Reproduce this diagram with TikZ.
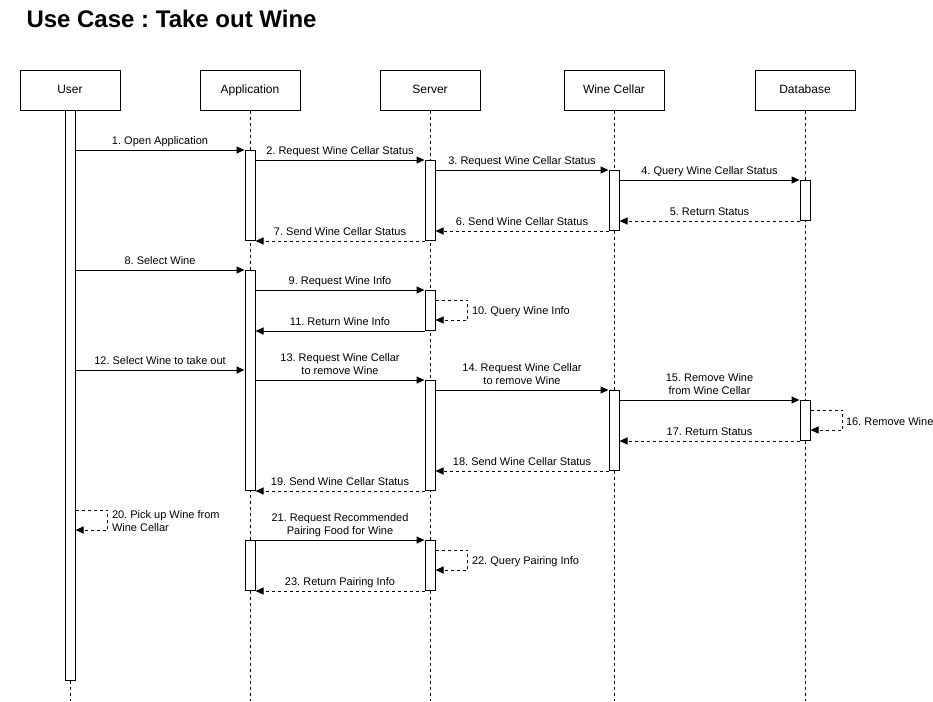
\documentclass[tikz,border=0pt]{standalone}
\usepackage{fontspec}
\setmainfont{Liberation Sans}
\usetikzlibrary{arrows.meta,calc}
\newcommand{\lsx}{\rule[-2.4pt]{0pt}{1pt}}
\begin{document}
\frenchspacing
\begin{tikzpicture}[x=1pt,y=-1pt,line width=1pt,
  head/.style={draw,fill=white,minimum width=100pt,minimum height=40pt,inner sep=0pt,text height=8.8pt,text depth=2.6pt,font=\fontsize{12}{14}\selectfont},
  life/.style={dash pattern=on 3pt off 3pt,line width=1pt},
  act/.style={draw,fill=white,minimum width=10pt,inner sep=0pt,anchor=north},
  msg/.style={-{Triangle[length=8pt,width=7pt]}},
  ret/.style={-{Triangle[length=8pt,width=7pt]},dash pattern=on 3pt off 3pt},
  lab/.style={midway,anchor=south,inner sep=0pt,yshift=2.2pt,align=center,font=\fontsize{11}{13}\selectfont},
  llab/.style={midway,anchor=west,inner sep=0pt,xshift=4pt,yshift=-1.5pt,align=left,font=\fontsize{11}{13}\selectfont}]
\useasboundingbox (0,0) rectangle (933,701);
\fill[white] (0,0) rectangle (933,701);

\node[anchor=base west,inner sep=0pt,font=\fontsize{24}{27}\selectfont\bfseries] (title) at (26,28) {Use Case : Take out Wine};

% heads
\node[head] (hu) at (70,90) {User};
\node[head] (ha) at (250,90) {Application};
\node[head] (hs) at (430,90) {Server};
\node[head] (hw) at (614,90) {Wine Cellar};
\node[head] (hd) at (805,90) {Database};

% lifeline ends
\coordinate (eu) at (70,701);
\coordinate (ea) at (250,701);
\coordinate (es) at (430,701);
\coordinate (ew) at (614,701);
\coordinate (ed) at (805,701);
\draw[life] (hu.south) -- (eu);
\draw[life] (ha.south) -- (ea);
\draw[life] (hs.south) -- (es);
\draw[life] (hw.south) -- (ew);
\draw[life] (hd.south) -- (ed);

% activations
\node[act,minimum height=570pt] (ua) at (70,110) {};
\node[act,minimum height=90pt] (app1) at (250,150) {};
\node[act,minimum height=220pt] (app2) at (250,270) {};
\node[act,minimum height=50pt] (app3) at (250,540) {};
\node[act,minimum height=80pt] (srv1) at (430,160) {};
\node[act,minimum height=40pt] (srv2) at (430,290) {};
\node[act,minimum height=110pt] (srv3) at (430,380) {};
\node[act,minimum height=50pt] (srv4) at (430,540) {};
\node[act,minimum height=60pt] (wc1) at (614,170) {};
\node[act,minimum height=80pt] (wc2) at (614,390) {};
\node[act,minimum height=40pt] (db1) at (805,180) {};
\node[act,minimum height=40pt] (db2) at (805,400) {};

% messages
\draw[msg] (app1.north west -| ua.east) -- (app1.north west) node[lab] {1. Open Application\lsx};
\draw[msg] (srv1.north west -| app1.east) -- (srv1.north west) node[lab] {2. Request Wine Cellar Status\lsx};
\draw[msg] (wc1.north west -| srv1.east) -- (wc1.north west) node[lab] {3. Request Wine Cellar Status\lsx};
\draw[msg] (db1.north west -| wc1.east) -- (db1.north west) node[lab] {4. Query Wine Cellar Status\lsx};
\draw[ret] (db1.south west) -- (db1.south west -| wc1.east) node[lab] {5. Return Status\lsx};
\draw[ret] (wc1.south west) -- (wc1.south west -| srv1.east) node[lab] {6. Send Wine Cellar Status\lsx};
\draw[ret] (srv1.south west) -- (srv1.south west -| app1.east) node[lab] {7. Send Wine Cellar Status\lsx};

\draw[msg] (app2.north west -| ua.east) -- (app2.north west) node[lab] {8. Select Wine\lsx};
\draw[msg] (srv2.north west -| app2.east) -- (srv2.north west) node[lab] {9. Request Wine Info\lsx};
\draw[ret] ($(srv2.north east)+(0,10)$) -- ++(32,0) -- ++(0,20) node[llab] {10. Query Wine Info} -- ++(-32,0);
\draw[msg] (srv2.south west) -- (srv2.south west -| app2.east) node[lab] {11. Return Wine Info\lsx};

\coordinate (m12) at ($(app2.north west)+(0,100)$);
\draw[msg] (m12 -| ua.east) -- (m12) node[lab] {12. Select Wine to take out\lsx};
\draw[msg] (srv3.north west -| app2.east) -- (srv3.north west) node[lab] {13. Request Wine Cellar\\to remove Wine\lsx};
\draw[msg] (wc2.north west -| srv3.east) -- (wc2.north west) node[lab] {14. Request Wine Cellar\\to remove Wine\lsx};
\draw[msg] (db2.north west -| wc2.east) -- (db2.north west) node[lab] {15. Remove Wine\\from Wine Cellar\lsx};
\draw[ret] ($(db2.north east)+(0,10)$) -- ++(32,0) -- ++(0,20) node[llab,xshift=-1pt] {16. Remove Wine} -- ++(-32,0);
\draw[ret] (db2.south west) -- (db2.south west -| wc2.east) node[lab] {17. Return Status\lsx};
\draw[ret] (wc2.south west) -- (wc2.south west -| srv3.east) node[lab] {18. Send Wine Cellar Status\lsx};
\draw[ret] (srv3.south west) -- (srv3.south west -| app2.east) node[lab] {19. Send Wine Cellar Status\lsx};

\draw[ret] ($(ua.north east)+(0,400)$) -- ++(32,0) -- ++(0,20) node[llab] {20. Pick up Wine from\\Wine Cellar} -- ++(-32,0);
\draw[msg] (app3.north east) -- (srv4.north west) node[lab] {21. Request Recommended\\Pairing Food for Wine\lsx};
\draw[ret] ($(srv4.north east)+(0,10)$) -- ++(32,0) -- ++(0,20) node[llab] {22. Query Pairing Info} -- ++(-32,0);
\draw[ret] (srv4.south west) -- (app3.south east) node[lab] {23. Return Pairing Info\lsx};
\end{tikzpicture}
\end{document}
